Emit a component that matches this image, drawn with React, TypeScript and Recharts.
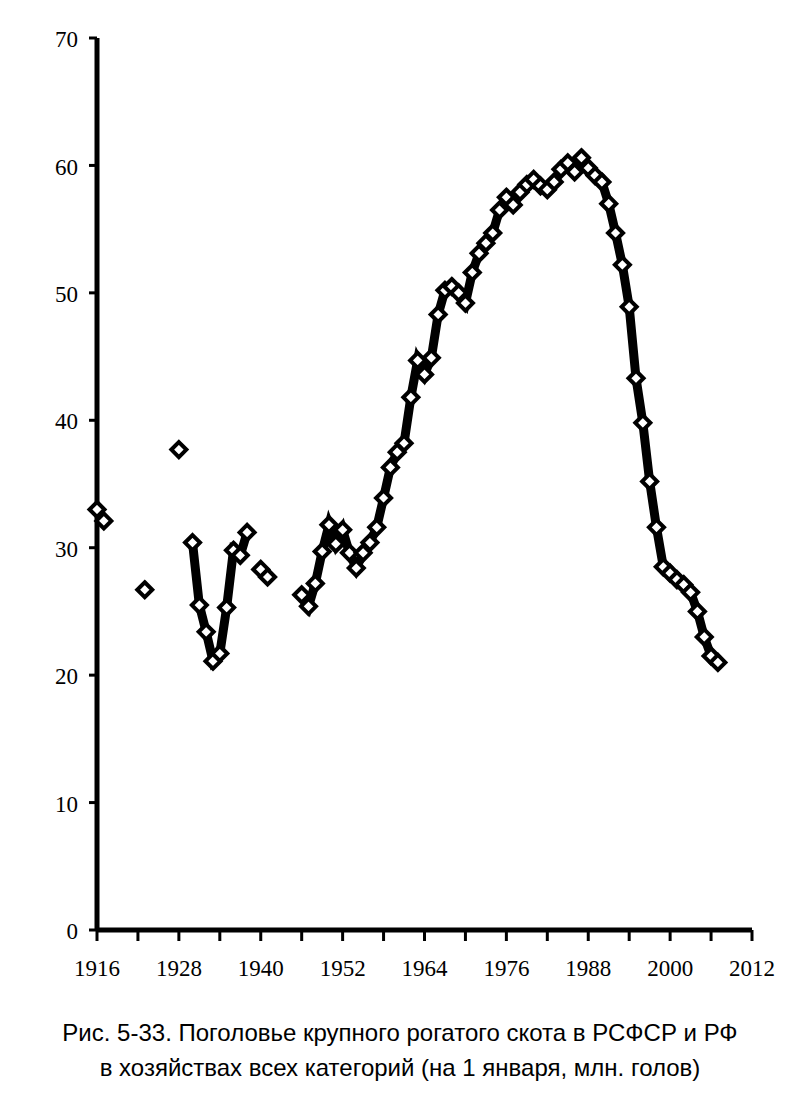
import React from "react";
import { LineChart, Line, XAxis, YAxis } from "recharts";

// scattered early observations (not joined by a line)
const isolatedYears = [1916, 1917, 1923, 1928, 1940, 1941];
const isolatedHead = [33.0, 32.1, 26.7, 37.7, 28.3, 27.7];

// 1930s run
const prewarYears = [1930, 1931, 1932, 1933, 1934, 1935, 1936, 1937, 1938];
const prewarHead = [30.4, 25.5, 23.4, 21.1, 21.7, 25.3, 29.8, 29.4, 31.2];

// post-war run, millions of head on 1 January
const postwarYears = [
  1946, 1947, 1948, 1949, 1950, 1951, 1952, 1953, 1954, 1955,
  1956, 1957, 1958, 1959, 1960, 1961, 1962, 1963, 1964, 1965,
  1966, 1967, 1968, 1969, 1970, 1971, 1972, 1973, 1974, 1975,
  1976, 1977, 1978, 1979, 1980, 1981, 1982, 1983, 1984, 1985,
  1986, 1987, 1988, 1989, 1990, 1991, 1992, 1993, 1994, 1995,
  1996, 1997, 1998, 1999, 2000, 2001, 2002, 2003, 2004, 2005,
  2006, 2007,
];
const postwarHead = [
  26.3, 25.4, 27.2, 29.7, 31.8, 30.3, 31.4, 29.6, 28.4, 29.6,
  30.4, 31.6, 33.9, 36.3, 37.5, 38.2, 41.8, 44.7, 43.6, 44.9,
  48.3, 50.2, 50.5, 50.0, 49.2, 51.6, 53.1, 53.9, 54.7, 56.5,
  57.5, 56.9, 57.9, 58.5, 58.9, 58.4, 58.1, 58.7, 59.7, 60.2,
  59.5, 60.6, 59.8, 59.2, 58.7, 57.0, 54.7, 52.2, 48.9, 43.3,
  39.8, 35.2, 31.6, 28.5, 28.0, 27.5, 27.1, 26.5, 25.0, 23.0,
  21.5, 21.0,
];

const xTicks = [
  1916, 1922, 1928, 1934, 1940, 1946, 1952, 1958, 1964, 1970,
  1976, 1982, 1988, 1994, 2000, 2006, 2012,
];
const xLabels = [1916, 1928, 1940, 1952, 1964, 1976, 1988, 2000, 2012];
const yTicks = [0, 10, 20, 30, 40, 50, 60, 70];

const captionLines = [
  "Рис. 5-33. Поголовье крупного рогатого скота в РСФСР и РФ",
  "в хозяйствах всех категорий (на 1 января, млн. голов)",
];

const toRows = (years: number[], vals: number[]) =>
  years.map((year, i) => ({ year, head: vals[i] }));

const isolatedData = toRows(isolatedYears, isolatedHead);
const prewarData = toRows(prewarYears, prewarHead);
const postwarData = toRows(postwarYears, postwarHead);

const SERIF = '"Liberation Serif", "Times New Roman", serif';

const Diamond = (props: any) => {
  const { cx, cy, index } = props;
  if (cx == null || cy == null || Number.isNaN(cy)) return <g key={`d-${index}`} />;
  const r = 7.5;
  return (
    <polygon
      key={`d-${index}-${cx}`}
      points={`${cx},${cy - r} ${cx + r},${cy} ${cx},${cy + r} ${cx - r},${cy}`}
      fill="#fff"
      stroke="#000"
      strokeWidth={4}
    />
  );
};

const XTick = (props: any) => {
  const { x, y, payload } = props;
  const v = payload.value;
  return (
    <g>
      <line x1={x} y1={y} x2={x} y2={y + 11} stroke="#000" strokeWidth={3} />
      {xLabels.includes(v) && (
        <text x={x} y={y + 38} dy="0.35em" textAnchor="middle" fontFamily={SERIF} fontSize={23} fill="#000">
          {v}
        </text>
      )}
    </g>
  );
};

const YTick = (props: any) => {
  const { x, y, payload } = props;
  return (
    <g>
      <line x1={x - 8} y1={y} x2={x} y2={y} stroke="#000" strokeWidth={3} />
      <text x={x - 19} y={y} dy="0.4em" textAnchor="end" fontFamily={SERIF} fontSize={23} fill="#000">
        {payload.value}
      </text>
    </g>
  );
};

export default function App() {
  return (
    <div style={{ position: "relative", width: 784, height: 1087, background: "#fff" }}>
      <LineChart
        width={784}
        height={990}
        margin={{ top: 30, right: 40, left: 29, bottom: 28 }}
      >
        <XAxis
          type="number"
          dataKey="year"
          domain={[1916, 2012]}
          ticks={xTicks}
          interval={0}
          tick={<XTick />}
          tickLine={false}
          tickSize={0}
          tickMargin={0}
          height={40}
          axisLine={{ stroke: "#000", strokeWidth: 5 }}
          allowDuplicatedCategory={false}
        />
        <YAxis
          type="number"
          domain={[0, 70]}
          ticks={yTicks}
          interval={0}
          tick={<YTick />}
          tickLine={false}
          tickSize={0}
          tickMargin={0}
          width={60}
          axisLine={{ stroke: "#000", strokeWidth: 5 }}
        />
        <Line
          data={prewarData}
          dataKey="head"
          type="linear"
          stroke="#000"
          strokeWidth={9}
          dot={Diamond}
          activeDot={false}
          isAnimationActive={false}
        />
        <Line
          data={postwarData}
          dataKey="head"
          type="linear"
          stroke="#000"
          strokeWidth={9}
          dot={Diamond}
          activeDot={false}
          isAnimationActive={false}
        />
        <Line
          data={isolatedData}
          dataKey="head"
          type="linear"
          stroke="none"
          strokeWidth={0}
          dot={Diamond}
          activeDot={false}
          isAnimationActive={false}
        />
      </LineChart>
      {captionLines.map((line, i) => (
        <div
          key={line}
          style={{
            position: "absolute",
            left: 0,
            width: 784,
            top: 1012 + i * 35,
            textAlign: "center",
            fontFamily: '"Liberation Sans", Arial, sans-serif',
            fontSize: 24,
            lineHeight: "26px",
            color: "#000",
          }}
        >
          {line}
        </div>
      ))}
    </div>
  );
}
